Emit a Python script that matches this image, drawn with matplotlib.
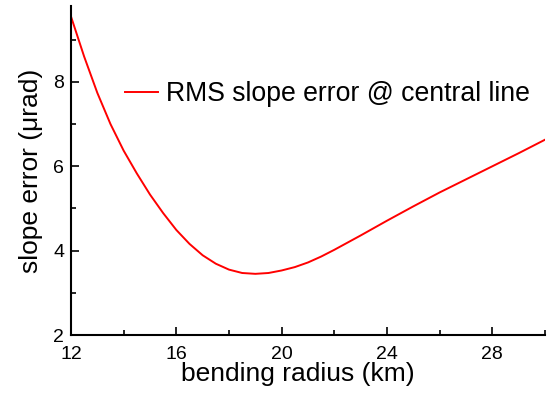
import numpy as np
import matplotlib.pyplot as plt
from matplotlib.ticker import MultipleLocator

# values
radius = [12, 12.5, 13, 13.5, 14, 14.5, 15, 15.5, 16, 16.5, 17, 17.5, 18, 18.5,
          19, 19.5, 20, 20.5, 21, 21.5, 22, 23, 24, 25, 26, 27, 28, 29, 30]
slope_err = [9.55, 8.60, 7.74, 7.00, 6.37, 5.83, 5.33, 4.89, 4.49, 4.16, 3.89, 3.69,
             3.55, 3.47, 3.45, 3.47, 3.53, 3.61, 3.72, 3.86, 4.02, 4.36, 4.71, 5.05,
             5.38, 5.69, 6.00, 6.31, 6.63]

plt.rcParams['font.family'] = ['Liberation Sans', 'DejaVu Sans']

fig = plt.figure(figsize=(5.48, 3.99), dpi=100)
ax = fig.add_axes([71/548, 64/399, 474/548, 329/399])

ax.plot(radius, slope_err, color='#ff0000', lw=1.4, label='RMS slope error @ central line')

ax.set_xlim(12, 30)
ax.set_ylim(2, 9.8)
ax.xaxis.set_major_locator(MultipleLocator(4))
ax.xaxis.set_minor_locator(MultipleLocator(2))
ax.yaxis.set_major_locator(MultipleLocator(2))
ax.yaxis.set_minor_locator(MultipleLocator(1))

for s in ['top', 'right']:
    ax.spines[s].set_visible(False)
for s in ['left', 'bottom']:
    ax.spines[s].set_linewidth(1.5)

ax.tick_params(which='major', direction='in', length=6, width=1.2, labelsize=14, pad=5)
ax.tick_params(axis='x', which='major', pad=8)
ax.tick_params(which='minor', direction='in', length=3.5, width=1.2)

ax.set_xlabel('bending radius (km)', fontsize=19)
ax.xaxis.set_label_coords(0.479, -0.082, transform=ax.transAxes)
ax.xaxis.label.set_va('top')
ax.set_ylabel('slope error (μrad)', fontsize=19, labelpad=7)

ax.legend(frameon=False, fontsize=19.2, loc='center left',
          bbox_to_anchor=(125/548, 1 - 94/399), bbox_transform=fig.transFigure,
          borderpad=0, borderaxespad=0, handlelength=1.25, handletextpad=0.3)

fig.savefig('out.png', dpi=100)
